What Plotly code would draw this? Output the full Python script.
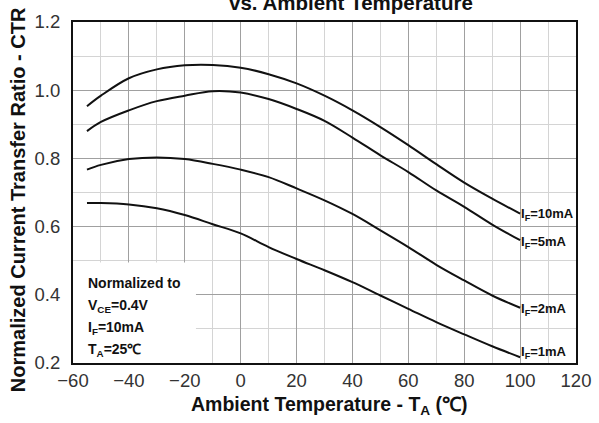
import plotly.graph_objects as go

temps = [-55, -50, -40, -30, -20, -10, 0, 10, 20, 30, 40, 50, 60, 70, 80, 90, 100]
ctr_10mA = [0.953, 0.984, 1.035, 1.061, 1.073, 1.074, 1.066, 1.047, 1.020, 0.984, 0.941, 0.892, 0.839, 0.783, 0.729, 0.682, 0.638]
ctr_5mA = [0.880, 0.907, 0.941, 0.968, 0.984, 0.997, 0.993, 0.974, 0.945, 0.910, 0.861, 0.809, 0.760, 0.706, 0.658, 0.606, 0.560]
ctr_2mA = [0.767, 0.781, 0.798, 0.803, 0.798, 0.784, 0.767, 0.745, 0.712, 0.677, 0.637, 0.589, 0.540, 0.488, 0.442, 0.398, 0.362]
ctr_1mA = [0.669, 0.669, 0.665, 0.654, 0.634, 0.607, 0.580, 0.540, 0.505, 0.472, 0.437, 0.398, 0.359, 0.320, 0.284, 0.249, 0.217]

series = [
    ("I<sub>F</sub>=10mA", ctr_10mA),
    ("I<sub>F</sub>=5mA", ctr_5mA),
    ("I<sub>F</sub>=2mA", ctr_2mA),
    ("I<sub>F</sub>=1mA", ctr_1mA),
]
label_y = [0.636, 0.553, 0.356, 0.232]

note_lines = ["Normalized to", "V<sub>CE</sub>=0.4V", "I<sub>F</sub>=10mA", "T<sub>A</sub>=25℃"]
note_y = [0.435, 0.368, 0.303, 0.238]

x_title = "Ambient Temperature - T<sub>A</sub> (℃)"
y_title = "Normalized Current Transfer Ratio - CTR"
top_title = "vs. Ambient Temperature"

FONT = "Arial, Liberation Sans"

fig = go.Figure()
for name, vals in series:
    fig.add_trace(go.Scatter(x=temps, y=vals, mode="lines", name=name,
                             line=dict(color="#111111", width=2, shape="spline", smoothing=1.0),
                             showlegend=False, hoverinfo="skip"))

annotations = []
for (name, vals), ly in zip(series, label_y):
    annotations.append(dict(x=99.5, y=ly, xref="x", yref="y", text=name, showarrow=False,
                            xanchor="left", yanchor="middle",
                            font=dict(family=FONT, size=13, color="#111111", weight="bold")))
for t, ny in zip(note_lines, note_y):
    annotations.append(dict(x=-55.4, y=ny, xref="x", yref="y", text=t, showarrow=False,
                            xanchor="left", yanchor="middle",
                            font=dict(family=FONT, size=14, color="#111111", weight="bold")))
annotations.append(dict(x=0.553, y=1.017, xref="paper", yref="paper", text=top_title,
                        showarrow=False, xanchor="center", yanchor="bottom",
                        font=dict(family=FONT, size=20.5, color="#111111", weight="bold")))
annotations.append(dict(x=-0.109, y=0.478, xref="paper", yref="paper", text=y_title,
                        showarrow=False, xanchor="center", yanchor="middle", textangle=-90,
                        font=dict(family=FONT, size=20, color="#111111", weight="bold")))
annotations.append(dict(x=0.509, y=-0.125, xref="paper", yref="paper", text=x_title,
                        showarrow=False, xanchor="center", yanchor="middle",
                        font=dict(family=FONT, size=19.5, color="#111111", weight="bold")))

fig.update_layout(
    width=599, height=423,
    margin=dict(l=73, r=23, t=22, b=60),
    paper_bgcolor="white", plot_bgcolor="white",
    annotations=annotations,
    shapes=[dict(type="rect", xref="x", yref="y", x0=-60, x1=-16, y0=0.2, y1=0.495,
                 fillcolor="white", line=dict(width=0), layer="between")],
    font=dict(family=FONT, color="#333333"),
    hovermode=False,
)
fig.update_xaxes(
    range=[-60, 120], tickmode="linear", tick0=-60, dtick=20,
    showgrid=True, gridcolor="#a0a0a0", gridwidth=1,
    minor=dict(dtick=10, tick0=-60, showgrid=True, gridcolor="#d4d4d4", gridwidth=1),
    showline=True, linecolor="#111111", linewidth=2, mirror=True,
    ticks="", tickfont=dict(size=18.5, color="#333333"), ticklabelstandoff=0,
    zeroline=False, automargin=False,
)
fig.update_yaxes(
    range=[0.2, 1.2], tickmode="linear", tick0=0.2, dtick=0.2, tickformat=".1f",
    showgrid=True, gridcolor="#a0a0a0", gridwidth=1,
    minor=dict(dtick=0.1, tick0=0.2, showgrid=True, gridcolor="#d4d4d4", gridwidth=1),
    showline=True, linecolor="#111111", linewidth=2, mirror=True,
    ticks="", tickfont=dict(size=18.5, color="#333333"), ticklabelstandoff=7,
    zeroline=False, automargin=False,
)

fig.write_html("out.html", config={"displayModeBar": False},
               post_script="document.body.style.margin='0';document.body.style.overflow='hidden';")
